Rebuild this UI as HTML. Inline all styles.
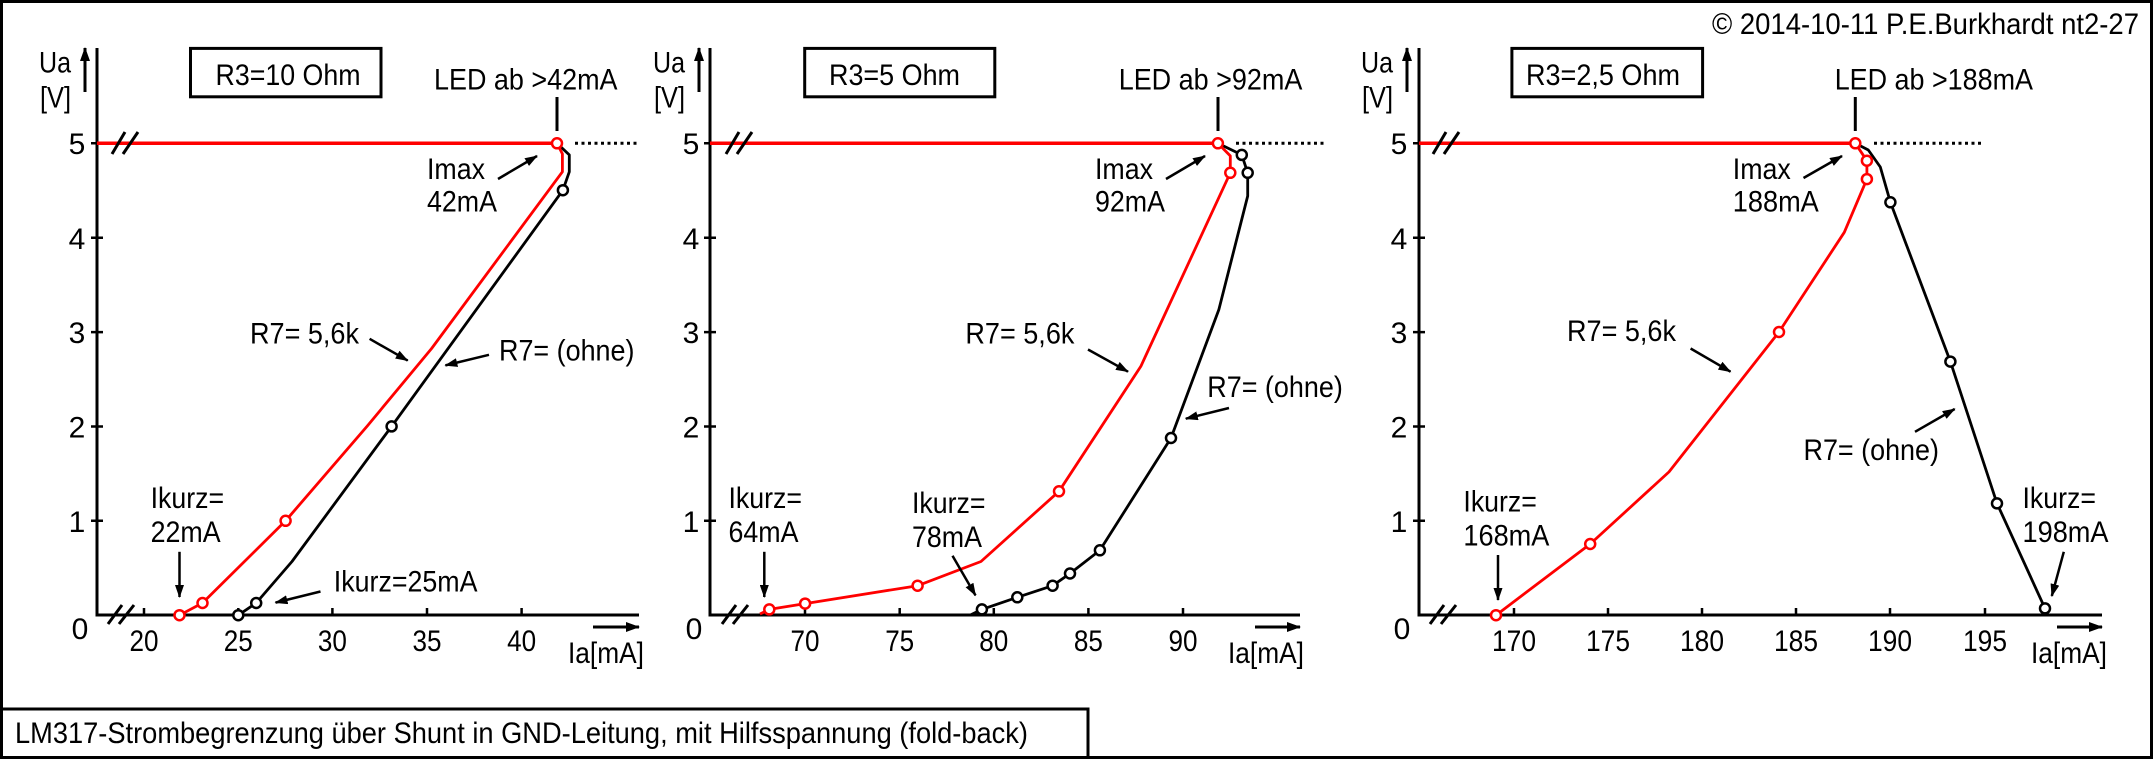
<!DOCTYPE html>
<html><head><meta charset="utf-8"><style>
html,body{margin:0;padding:0;background:#fff;}
svg{display:block;}
text{font-family:"Liberation Sans Narrow","Liberation Sans",sans-serif;font-size:30px;fill:#000;}
.t{text-anchor:middle;}
</style></head><body>
<svg width="2153" height="759" viewBox="0 0 2153 759" xmlns="http://www.w3.org/2000/svg">
<rect x="1.5" y="1.5" width="2150" height="756" fill="#fff" stroke="#000" stroke-width="3"/>
<polyline points="1.5,709 1088,709 1088,757" fill="none" stroke="#000" stroke-width="3"/>
<text x="15" y="743" textLength="1013" lengthAdjust="spacingAndGlyphs">LM317-Strombegrenzung über Shunt in GND-Leitung, mit Hilfsspannung (fold-back)</text>
<text x="1712" y="34" textLength="427" lengthAdjust="spacingAndGlyphs">© 2014-10-11 P.E.Burkhardt nt2-27</text>

<defs>
<marker id="ah" markerWidth="13" markerHeight="9" refX="12" refY="4.5" orient="auto" markerUnits="userSpaceOnUse"><path d="M0,0 L13,4.5 L0,9 z" fill="#000"/></marker>
<marker id="ah2" markerWidth="14" markerHeight="10" refX="13" refY="5" orient="auto" markerUnits="userSpaceOnUse"><path d="M0,0 L14,5 L0,10 z" fill="#000"/></marker>
</defs>

<g stroke="#000" stroke-width="3" fill="none">
<polyline points="97,48 97,615 639,615"/>
<polyline points="710,48 710,615 1300,615"/>
<polyline points="1419,48 1419,615 2102,615"/>
</g>
<g stroke="#000" stroke-width="2.5">
<path d="M91,143.3H103M91,237.7H103M91,332.1H103M91,426.5H103M91,520.8H103"/>
<path d="M704,143.3H716M704,237.7H716M704,332.1H716M704,426.5H716M704,520.8H716"/>
<path d="M1413,143.3H1425M1413,237.7H1425M1413,332.1H1425M1413,426.5H1425M1413,520.8H1425"/>
<path d="M144,615V608M238.3,615V608M332.4,615V608M427,615V608M521.6,615V608"/>
<path d="M805,615V608M899.7,615V608M993.8,615V608M1088.4,615V608M1183,615V608"/>
<path d="M1514,615V608M1608,615V608M1702,615V608M1796,615V608M1890,615V608M1985,615V608"/>
</g>
<g stroke="#000" stroke-width="3" marker-end="url(#ah2)">
<line x1="85" y1="92" x2="85" y2="48"/>
<line x1="699" y1="92" x2="699" y2="48"/>
<line x1="1407" y1="92" x2="1407" y2="48"/>
<line x1="593" y1="627" x2="639" y2="627"/>
<line x1="1255" y1="627" x2="1300" y2="627"/>
<line x1="2057" y1="627" x2="2102" y2="627"/>
</g>
<g>
<text x="39" y="72.6" textLength="32" lengthAdjust="spacingAndGlyphs">Ua</text>
<text x="40" y="107.5" textLength="31" lengthAdjust="spacingAndGlyphs">[V]</text>
<text x="653" y="72.6" textLength="32" lengthAdjust="spacingAndGlyphs">Ua</text>
<text x="654" y="107.5" textLength="31" lengthAdjust="spacingAndGlyphs">[V]</text>
<text x="1361" y="72.6" textLength="32" lengthAdjust="spacingAndGlyphs">Ua</text>
<text x="1362" y="107.5" textLength="31" lengthAdjust="spacingAndGlyphs">[V]</text>
<text x="568" y="663" textLength="76" lengthAdjust="spacingAndGlyphs">Ia[mA]</text>
<text x="1228" y="663" textLength="76" lengthAdjust="spacingAndGlyphs">Ia[mA]</text>
<text x="2031" y="663" textLength="76" lengthAdjust="spacingAndGlyphs">Ia[mA]</text>
</g>
<g>
<text class="t" x="77" y="154">5</text><text class="t" x="77" y="249">4</text><text class="t" x="77" y="343">3</text><text class="t" x="77" y="437.5">2</text><text class="t" x="77" y="532">1</text><text class="t" x="80" y="639">0</text>
<text class="t" x="691" y="154">5</text><text class="t" x="691" y="249">4</text><text class="t" x="691" y="343">3</text><text class="t" x="691" y="437.5">2</text><text class="t" x="691" y="532">1</text><text class="t" x="694" y="639">0</text>
<text class="t" x="1399" y="154">5</text><text class="t" x="1399" y="249">4</text><text class="t" x="1399" y="343">3</text><text class="t" x="1399" y="437.5">2</text><text class="t" x="1399" y="532">1</text><text class="t" x="1402" y="639">0</text>
<text class="t" x="144" y="651" textLength="29" lengthAdjust="spacingAndGlyphs">20</text><text class="t" x="238.3" y="651" textLength="29" lengthAdjust="spacingAndGlyphs">25</text><text class="t" x="332.4" y="651" textLength="29" lengthAdjust="spacingAndGlyphs">30</text><text class="t" x="427" y="651" textLength="29" lengthAdjust="spacingAndGlyphs">35</text><text class="t" x="521.6" y="651" textLength="29" lengthAdjust="spacingAndGlyphs">40</text>
<text class="t" x="805" y="651" textLength="29" lengthAdjust="spacingAndGlyphs">70</text><text class="t" x="899.7" y="651" textLength="29" lengthAdjust="spacingAndGlyphs">75</text><text class="t" x="993.8" y="651" textLength="29" lengthAdjust="spacingAndGlyphs">80</text><text class="t" x="1088.4" y="651" textLength="29" lengthAdjust="spacingAndGlyphs">85</text><text class="t" x="1183" y="651" textLength="29" lengthAdjust="spacingAndGlyphs">90</text>
<text class="t" x="1514" y="651" textLength="44" lengthAdjust="spacingAndGlyphs">170</text><text class="t" x="1608" y="651" textLength="44" lengthAdjust="spacingAndGlyphs">175</text><text class="t" x="1702" y="651" textLength="44" lengthAdjust="spacingAndGlyphs">180</text><text class="t" x="1796" y="651" textLength="44" lengthAdjust="spacingAndGlyphs">185</text><text class="t" x="1890" y="651" textLength="44" lengthAdjust="spacingAndGlyphs">190</text><text class="t" x="1985" y="651" textLength="44" lengthAdjust="spacingAndGlyphs">195</text>
</g>

<g fill="none" stroke="#000" stroke-width="3">
<rect x="190.5" y="48.4" width="190.5" height="48.4"/>
<rect x="804.7" y="48.4" width="190.1" height="48.4"/>
<rect x="1511.9" y="48.4" width="190.7" height="48.4"/>
</g>
<text x="215.5" y="85" textLength="145" lengthAdjust="spacingAndGlyphs">R3=10 Ohm</text>
<text x="829" y="85" textLength="131" lengthAdjust="spacingAndGlyphs">R3=5 Ohm</text>
<text x="1526" y="85" textLength="154" lengthAdjust="spacingAndGlyphs">R3=2,5 Ohm</text>
<text x="434" y="89.5" textLength="183.5" lengthAdjust="spacingAndGlyphs">LED ab &gt;42mA</text>
<text x="1118.7" y="89.5" textLength="183.7" lengthAdjust="spacingAndGlyphs">LED ab &gt;92mA</text>
<text x="1834.7" y="89.5" textLength="198.3" lengthAdjust="spacingAndGlyphs">LED ab &gt;188mA</text>
<g stroke="#000" stroke-width="3">
<line x1="557" y1="97" x2="557" y2="131"/>
<line x1="1218" y1="97" x2="1218" y2="131"/>
<line x1="1855.3" y1="97" x2="1855.3" y2="131"/>
</g>
<g stroke="#000" stroke-width="3" stroke-dasharray="3,3.5">
<line x1="575" y1="143.3" x2="639" y2="143.3"/>
<line x1="1236" y1="143.3" x2="1324" y2="143.3"/>
<line x1="1874" y1="143.3" x2="1984" y2="143.3"/>
</g>

<g stroke="#f00" stroke-width="3.5">
<line x1="97" y1="143.3" x2="557" y2="143.3"/>
<line x1="710" y1="143.3" x2="1218" y2="143.3"/>
<line x1="1419" y1="143.3" x2="1855" y2="143.3"/>
</g>
<g stroke="#000" stroke-width="3">
<path d="M112,154L125,132M123,154L138,132"/>
<path d="M108,624L122,605M119,624L134,605"/>
<path d="M726,154L739,132M737,154L752,132"/>
<path d="M722,624L736,605M733,624L748,605"/>
<path d="M1433,154L1446,132M1444,154L1459,132"/>
<path d="M1430,624L1444,605M1441,624L1456,605"/>
</g>

<g fill="none" stroke-width="2.8" stroke-linejoin="round">
<polyline stroke="#000" points="557,143.3 569.3,154.9 569.3,171.8 562.9,190.2 391.6,426.4 292,561.5 256.2,603 238.3,615.2"/>
<polyline stroke="#f00" points="557,143.3 562.4,153.9 562.4,171.8 431.6,348.5 367.3,426 285.6,520.8 202.5,603 179.5,615.2"/>
<polyline stroke="#000" points="1217.9,143.3 1241.8,154.9 1247.7,172.8 1247.7,196 1218.8,309.8 1171,438 1099.9,550.3 1070,573.5 1052.6,585.7 1017.3,597.3 981.9,609.4 970.9,614.7"/>
<polyline stroke="#f00" points="1217.9,143.3 1230.3,155.9 1230.3,172.8 1140.8,366.4 1059,491.3 981,561.5 917.6,585.7 805.1,603.6 769.3,609.4 760,614"/>
<polyline stroke="#000" points="1855.3,143.3 1868.3,150 1880.3,167 1890.4,202.3 1950.4,361.6 1997,503.4 2045,608.4"/>
<polyline stroke="#f00" points="1855.3,143.3 1866.9,160.7 1866.9,179.1 1844.3,232.3 1779,332 1669,471.9 1590.2,544 1496,615.2"/>
</g>
<g fill="#fff" stroke="#000" stroke-width="2.5">
<circle cx="562.9" cy="190.2" r="5"/><circle cx="391.6" cy="426.4" r="5"/><circle cx="256.2" cy="603" r="5"/><circle cx="238.3" cy="615.2" r="5"/>
<circle cx="1241.8" cy="154.9" r="5"/><circle cx="1247.7" cy="172.8" r="5"/><circle cx="1171" cy="438" r="5"/><circle cx="1099.9" cy="550.3" r="5"/><circle cx="1070" cy="573.5" r="5"/><circle cx="1052.6" cy="585.7" r="5"/><circle cx="1017.3" cy="597.3" r="5"/><circle cx="981.9" cy="609.4" r="5"/>
<circle cx="1890.4" cy="202.3" r="5"/><circle cx="1950.4" cy="361.6" r="5"/><circle cx="1997" cy="503.4" r="5"/><circle cx="2045" cy="608.4" r="5"/>
</g>
<g fill="#fff" stroke="#f00" stroke-width="2.5">
<circle cx="557" cy="143.3" r="5"/><circle cx="285.6" cy="520.8" r="5"/><circle cx="202.5" cy="603" r="5"/><circle cx="179.5" cy="615.2" r="5"/>
<circle cx="1217.9" cy="143.3" r="5"/><circle cx="1230.3" cy="172.8" r="5"/><circle cx="1059" cy="491.3" r="5"/><circle cx="917.6" cy="585.7" r="5"/><circle cx="805.1" cy="603.6" r="5"/><circle cx="769.3" cy="609.4" r="5"/>
<circle cx="1855.3" cy="143.3" r="5"/><circle cx="1866.9" cy="160.7" r="5"/><circle cx="1866.9" cy="179.1" r="5"/><circle cx="1779" cy="332" r="5"/><circle cx="1590.2" cy="544" r="5"/><circle cx="1496" cy="615.2" r="5"/>
</g>

<g stroke="#000" stroke-width="2.5" marker-end="url(#ah)">
<line x1="498" y1="179" x2="537" y2="156"/>
<line x1="369.6" y1="338.8" x2="407.7" y2="360.6"/>
<line x1="489" y1="354.8" x2="445.4" y2="365.4"/>
<line x1="179.5" y1="551.8" x2="179.5" y2="597"/>
<line x1="320.5" y1="591.5" x2="275.5" y2="602.6"/>
<line x1="1166" y1="179" x2="1205" y2="156"/>
<line x1="1088" y1="349.5" x2="1128" y2="371.7"/>
<line x1="1229" y1="408" x2="1185.8" y2="418.7"/>
<line x1="764.3" y1="551.8" x2="764.3" y2="597"/>
<line x1="952.5" y1="555.7" x2="975.5" y2="595.4"/>
<line x1="1803.5" y1="178" x2="1842" y2="156"/>
<line x1="1690.6" y1="348.5" x2="1730.5" y2="371.7"/>
<line x1="1915" y1="431.8" x2="1954.7" y2="409"/>
<line x1="1498" y1="555" x2="1498" y2="600"/>
<line x1="2063.8" y1="551.8" x2="2051.8" y2="596"/>
</g>
<text x="427" y="179" textLength="58" lengthAdjust="spacingAndGlyphs">Imax</text>
<text x="427" y="211.5" textLength="70" lengthAdjust="spacingAndGlyphs">42mA</text>
<text x="250" y="343.6" textLength="109" lengthAdjust="spacingAndGlyphs">R7= 5,6k</text>
<text x="499" y="360.6" textLength="135.5" lengthAdjust="spacingAndGlyphs">R7= (ohne)</text>
<text x="150.6" y="508" textLength="73.5" lengthAdjust="spacingAndGlyphs">Ikurz=</text>
<text x="150.6" y="542" textLength="70" lengthAdjust="spacingAndGlyphs">22mA</text>
<text x="333.8" y="591.5" textLength="143.7" lengthAdjust="spacingAndGlyphs">Ikurz=25mA</text>

<text x="1095" y="179" textLength="58" lengthAdjust="spacingAndGlyphs">Imax</text>
<text x="1095" y="211.5" textLength="70" lengthAdjust="spacingAndGlyphs">92mA</text>
<text x="965.4" y="343.6" textLength="109" lengthAdjust="spacingAndGlyphs">R7= 5,6k</text>
<text x="1207.3" y="397" textLength="135.5" lengthAdjust="spacingAndGlyphs">R7= (ohne)</text>
<text x="728.5" y="508" textLength="73.5" lengthAdjust="spacingAndGlyphs">Ikurz=</text>
<text x="728.5" y="542" textLength="70" lengthAdjust="spacingAndGlyphs">64mA</text>
<text x="912" y="513" textLength="73.5" lengthAdjust="spacingAndGlyphs">Ikurz=</text>
<text x="912" y="547" textLength="70" lengthAdjust="spacingAndGlyphs">78mA</text>

<text x="1732.8" y="179" textLength="58" lengthAdjust="spacingAndGlyphs">Imax</text>
<text x="1732.8" y="211.5" textLength="86" lengthAdjust="spacingAndGlyphs">188mA</text>
<text x="1567" y="341" textLength="109" lengthAdjust="spacingAndGlyphs">R7= 5,6k</text>
<text x="1803.5" y="460" textLength="135.5" lengthAdjust="spacingAndGlyphs">R7= (ohne)</text>
<text x="1463.4" y="511.6" textLength="73.5" lengthAdjust="spacingAndGlyphs">Ikurz=</text>
<text x="1463.4" y="545.5" textLength="86" lengthAdjust="spacingAndGlyphs">168mA</text>
<text x="2022.5" y="508" textLength="73.5" lengthAdjust="spacingAndGlyphs">Ikurz=</text>
<text x="2022.5" y="542" textLength="86" lengthAdjust="spacingAndGlyphs">198mA</text>
</svg>
</body></html>
